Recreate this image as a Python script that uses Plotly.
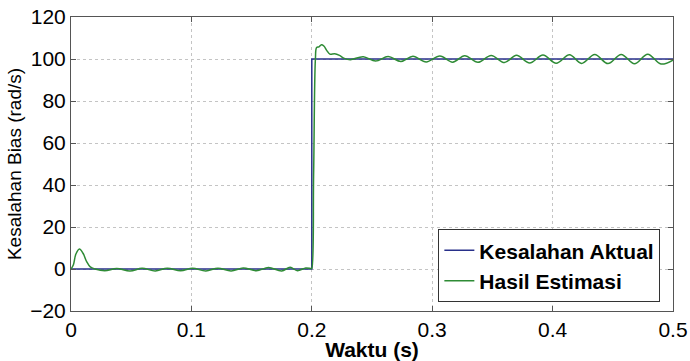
import plotly.graph_objects as go

# Actual bias error (step)
t_actual = [0.0, 0.2, 0.2, 0.5]
y_actual = [0.0, 0.0, 100.0, 100.0]

# Estimated bias
t_est = [0.0, 0.002, 0.004, 0.007, 0.010, 0.013, 0.016, 0.020,
         0.028, 0.038, 0.049, 0.059, 0.070, 0.080, 0.091, 0.101,
         0.112, 0.122, 0.133, 0.143, 0.154, 0.164, 0.175, 0.182,
         0.188, 0.195, 0.1995, 0.2, 0.2015, 0.203, 0.204, 0.206,
         0.208, 0.210, 0.2125, 0.215, 0.219, 0.223, 0.227, 0.232,
         0.2427, 0.253, 0.2634, 0.274, 0.284, 0.295, 0.3064, 0.317,
         0.327, 0.338, 0.349, 0.360, 0.370, 0.381, 0.392, 0.403,
         0.414, 0.424, 0.435, 0.446, 0.457, 0.468, 0.479, 0.490, 0.5]
y_est = [0.0, 2.0, 7.0, 9.5, 7.5, 3.5, 1.0, 0.0,
         -0.8, 0.2, -1.0, 0.3, -0.9, 0.4, -0.8, 0.3,
         -0.9, 0.4, -0.9, 0.5, -0.8, 0.7, -0.9, 0.8,
         -0.8, 0.5, 0.2, 0.3, 45.0, 100.0, 105.5, 105.8,
         106.8, 106.2, 104.0, 102.3, 102.5, 101.7, 100.3, 99.7,
         101.1, 99.0, 101.2, 98.8, 101.3, 98.6, 101.4, 98.5,
         101.6, 98.4, 101.7, 98.3, 101.8, 98.1, 101.9, 98.0,
         102.0, 97.9, 102.1, 97.8, 102.2, 97.7, 102.3, 97.6, 99.5]

x_ticks = [0, 0.1, 0.2, 0.3, 0.4, 0.5]
x_tick_labels = ["0", "0.1", "0.2", "0.3", "0.4", "0.5"]
y_ticks = [-20, 0, 20, 40, 60, 80, 100, 120]

FONT = "Liberation Sans, Arial, sans-serif"

fig = go.Figure()
fig.add_trace(go.Scatter(x=t_actual, y=y_actual, mode="lines",
                         name="<b>Kesalahan Aktual</b>",
                         line=dict(color="#28308a", width=1.5)))
fig.add_trace(go.Scatter(x=t_est, y=y_est, mode="lines",
                         name="<b>Hasil Estimasi</b>",
                         line=dict(color="#2e8b35", width=1.5, shape="spline", smoothing=1.0)))

axis_common = dict(showline=True, linecolor="#555555", linewidth=1, mirror="ticks",
                   ticks="inside", ticklen=5, tickcolor="#555555",
                   showgrid=True, gridcolor="#c4c4c4", griddash="dot", gridwidth=1,
                   zeroline=False, automargin=False,
                   tickfont=dict(family=FONT, size=21, color="black"))

fig.update_xaxes(range=[0, 0.5], tickvals=x_ticks, ticktext=x_tick_labels,
                 title=dict(text="<b>Waktu (s)</b>", standoff=0,
                            font=dict(family=FONT, size=21, color="black")),
                 **axis_common)
fig.update_yaxes(range=[-20, 120], tickvals=y_ticks,
                 title=dict(text="Kesalahan Bias (rad/s)", standoff=3,
                            font=dict(family=FONT, size=19, color="black")),
                 **axis_common)

fig.update_layout(
    width=690, height=361,
    margin=dict(l=71, r=17, t=17, b=50),
    paper_bgcolor="white", plot_bgcolor="white",
    showlegend=True,
    legend=dict(x=0.979, y=0.03, xanchor="right", yanchor="bottom",
                bgcolor="white", bordercolor="#333333", borderwidth=1,
                font=dict(family=FONT, size=21, color="black"),
                tracegroupgap=0, itemwidth=30),
)

fig.write_html("out.html", config={"displayModeBar": False},
               post_script="document.body.style.margin='0px';document.body.style.overflow='hidden';")
